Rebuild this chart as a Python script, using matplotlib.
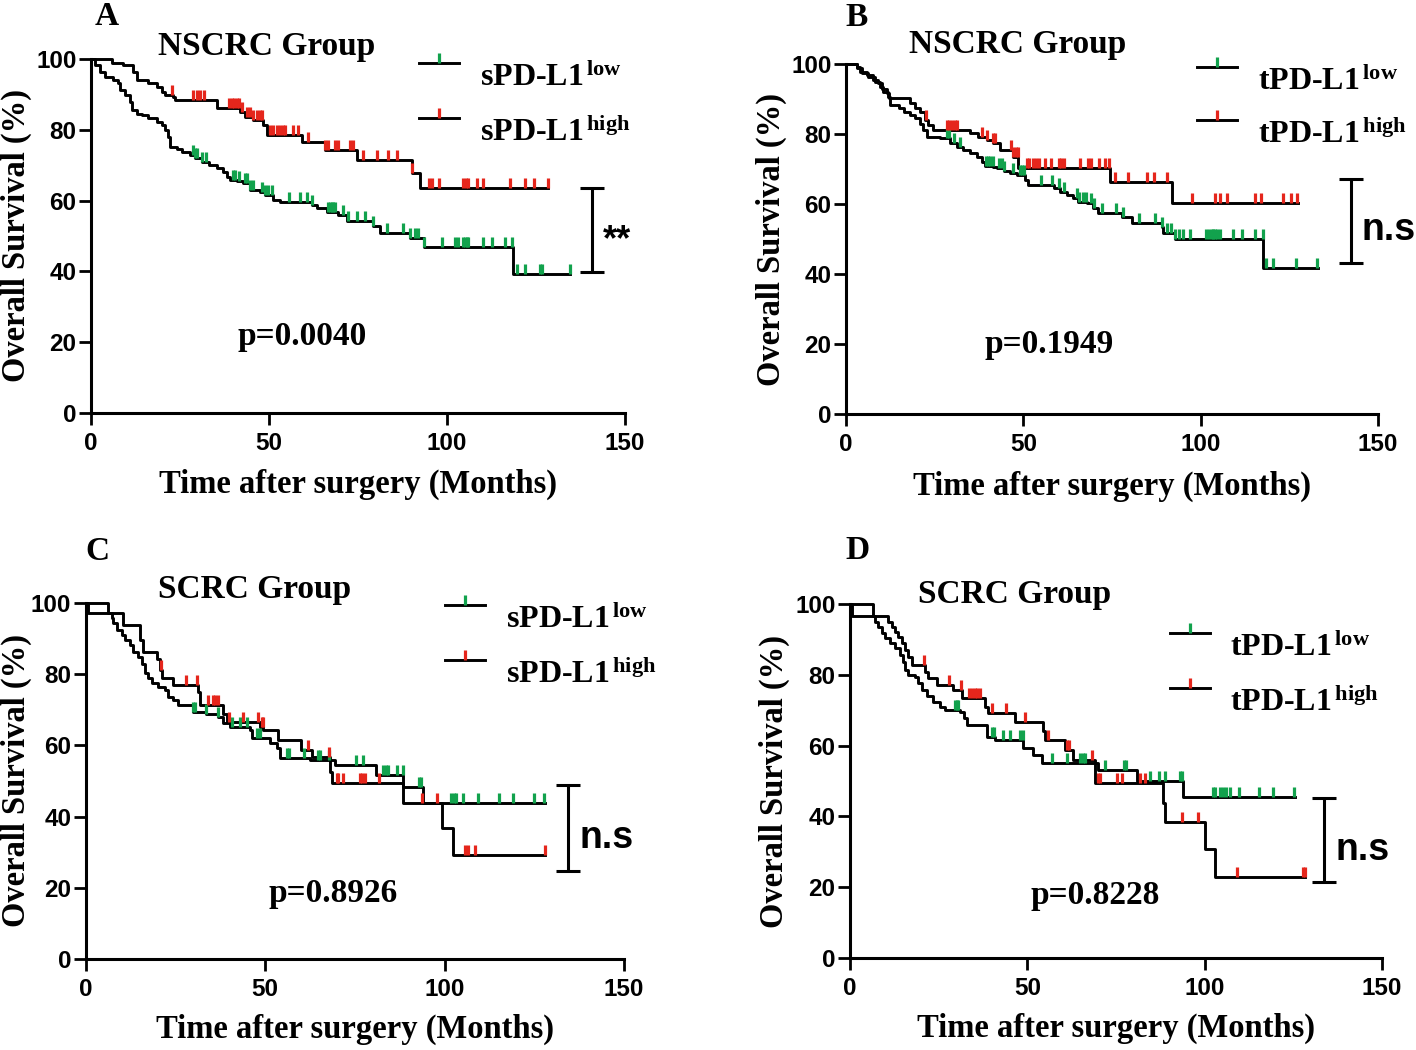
import numpy as np
import matplotlib
matplotlib.use("Agg")
import matplotlib.pyplot as plt
from matplotlib.path import Path

plt.rcParams["mathtext.fontset"] = "custom"
plt.rcParams["mathtext.rm"] = "Liberation Serif:bold"
plt.rcParams["mathtext.bf"] = "Liberation Serif:bold"
plt.rcParams["mathtext.it"] = "Liberation Serif:bold"

GREEN = "#12a24d"
RED = "#e5261c"
SERIF = "Liberation Serif"
SANS = "Liberation Sans"

# ---- Panel A: sPD-L1, NSCRC ----
a_low_t = [0, 1.1, 2.5, 3.9, 6.3, 7.7, 8.1, 9.5, 10.9, 11.4, 12.8, 14.2, 16.1, 18.4, 19.8, 20.8,
           21.7, 22.2, 24.1, 25.5, 27.8, 29.2, 31.1, 33.0, 35.3, 37.2, 38.1, 39.0, 40.9, 42.8, 44.7,
           47.5, 48.9, 51.2, 53.1, 62.0, 63.4, 66.2, 69.5, 71.8, 79.3, 81.2, 89.6, 93.4, 118.6, 134.5]
a_low_s = [100, 98.3, 96.4, 94.9, 94.1, 93.1, 91.2, 89.8, 87.9, 85.6, 84.6, 84.2, 83.2, 82.3, 81.4, 79.9,
           78.0, 75.2, 74.7, 73.8, 72.8, 71.9, 70.9, 70.0, 69.1, 68.2, 66.8, 65.8, 65.4, 64.9, 63.0,
           62.5, 61.6, 60.2, 59.7, 58.8, 57.8, 56.9, 56.0, 54.1, 52.7, 50.8, 49.4, 46.9, 39.4, 39.4]
a_low_cens = [28.7, 29.2, 29.7, 31.1, 32.3, 40.0, 40.4, 41.7, 43.3, 43.7, 44.7, 45.6, 47.9, 48.9, 49.8,
              50.7, 55.7, 58.7, 60.6, 62.0, 66.7, 67.1, 67.6, 68.1, 68.5, 70.9, 72.3, 74.6, 77.0, 79.3,
              83.0, 87.5, 89.6, 91.0, 91.9, 93.4, 98.5, 102.2, 103.2, 104.6, 105.1, 105.5, 106.0, 110.2,
              112.5, 116.3, 118.2, 119.6, 121.9, 126.1, 126.6, 134.5]
a_high_t = [0, 5.8, 9.1, 11.9, 12.8, 16.1, 18.4, 19.9, 20.8, 23.1, 23.6, 35.3, 41.8, 43.3, 45.6, 48.4,
            49.3, 59.2, 65.7, 74.6, 90.1, 92.4, 128.5]
a_high_s = [100, 99.0, 98.3, 96.4, 94.1, 93.1, 92.2, 90.8, 89.8, 89.4, 88.4, 86.1, 85.1, 83.7, 82.8, 81.4,
            78.5, 76.6, 74.3, 71.5, 67.7, 63.5, 63.5]
a_high_cens = [22.8, 28.7, 29.7, 30.6, 31.6, 38.8, 39.5, 40.2, 40.9, 41.7, 42.5, 43.7, 44.7, 45.6, 46.5,
               47.5, 47.9, 50.3, 51.2, 52.2, 53.1, 54.0, 54.5, 56.8, 58.2, 61.0, 65.7, 66.7, 68.5, 69.5,
               72.7, 73.5, 76.5, 80.2, 83.5, 85.9, 90.1, 94.8, 95.7, 97.8, 104.6, 105.3, 106.0, 108.3,
               110.2, 117.7, 121.9, 124.3, 128.5]

# ---- Panel B: tPD-L1, NSCRC ----
b_low_t = [0, 3.0, 4.4, 6.3, 8.2, 9.6, 10.5, 11.9, 12.4, 14.8, 16.2, 18.0, 19.5, 20.9, 21.8, 22.7,
           26.5, 29.3, 31.2, 33.1, 35.0, 36.8, 38.3, 39.2, 41.5, 42.5, 44.4, 46.2, 48.1, 50.5, 51.4,
           58.5, 60.3, 62.2, 64.1, 65.5, 67.9, 69.7, 71.1, 77.7, 80.5, 89.0, 89.5, 92.8, 117.7, 133.0]
b_low_s = [100, 98.8, 97.3, 96.4, 94.9, 93.5, 92.1, 90.7, 88.3, 87.3, 86.4, 85.4, 84.5, 83.0, 81.1, 79.2,
           78.8, 77.3, 76.4, 75.4, 74.5, 73.5, 72.1, 70.9, 70.7, 70.2, 69.3, 68.8, 68.3, 66.9, 65.4,
           64.5, 63.5, 62.6, 61.6, 60.7, 60.2, 58.8, 57.3, 56.4, 54.7, 53.5, 51.6, 49.9, 41.6, 41.6]
b_low_cens = [28.4, 29.1, 30.5, 32.0, 39.4, 40.0, 40.6, 41.4, 43.2, 43.9, 44.4, 47.2, 49.1, 49.6, 50.3,
              55.0, 58.2, 59.9, 61.5, 65.0, 65.8, 66.9, 67.7, 69.0, 69.9, 72.1, 76.1, 78.2, 82.7, 87.1,
              89.0, 90.4, 91.6, 92.8, 94.0, 94.9, 97.0, 101.5, 102.4, 103.1, 103.6, 104.0, 104.7, 105.3,
              109.0, 111.6, 115.3, 117.5, 118.4, 120.5, 126.9, 132.7]
b_high_t = [0, 3.0, 3.9, 5.8, 7.7, 9.1, 10.1, 11.5, 12.0, 18.0, 19.5, 20.9, 22.3, 23.2, 24.6, 35.0,
            37.3, 39.7, 41.5, 43.4, 47.2, 48.6, 74.4, 91.8, 127.5]
b_high_s = [100, 99.2, 97.8, 96.9, 95.4, 94.5, 93.0, 91.6, 90.2, 88.8, 87.3, 86.4, 84.0, 82.6, 81.1, 80.2,
            79.2, 78.3, 77.3, 75.4, 73.5, 70.2, 66.3, 60.4, 60.4]
b_high_cens = [22.6, 28.4, 29.1, 29.9, 30.7, 31.4, 38.3, 39.8, 41.5, 42.1, 46.4, 47.2, 47.9, 48.5, 51.0,
               51.7, 52.6, 53.6, 54.3, 56.1, 57.7, 60.1, 60.7, 61.5, 66.0, 68.3, 69.0, 71.3, 73.0, 74.0,
               75.9, 79.6, 84.8, 86.7, 90.4, 97.5, 104.0, 105.5, 107.5, 115.3, 116.9, 123.1, 125.4, 127.1]

# ---- Panel C: sPD-L1, SCRC ----
c_low_t = [0, 0.6, 7.2, 7.6, 8.6, 10.0, 10.9, 12.3, 13.2, 14.6, 15.5, 16.5, 17.4, 18.3, 20.2, 22.0,
           23.0, 24.3, 25.8, 29.9, 33.6, 36.9, 38.3, 40.1, 45.7, 46.2, 51.3, 53.2, 54.1, 62.5, 69.4,
           81.0, 88.5, 94.1, 128.0]
c_low_s = [100, 97.1, 95.7, 94.3, 92.4, 91.0, 89.6, 88.2, 86.3, 84.9, 83.0, 80.2, 78.8, 77.4, 76.5, 75.5,
           73.7, 72.7, 71.3, 69.4, 68.9, 68.0, 66.2, 65.3, 64.3, 62.0, 60.6, 59.2, 56.4, 55.9, 54.5,
           51.7, 48.4, 43.7, 43.7]
c_low_cens = [29.9, 30.4, 33.6, 36.9, 40.8, 43.0, 44.8, 47.6, 48.5, 56.0, 56.7, 60.8, 64.8, 65.4, 67.8,
              75.3, 77.3, 82.9, 83.6, 84.3, 86.6, 88.3, 93.0, 93.3, 101.9, 102.6, 103.3, 105.2, 109.4,
              115.2, 119.0, 124.9, 127.7]
c_high_t = [0, 6.2, 10.4, 15.1, 16.0, 19.7, 20.6, 21.1, 24.3, 31.3, 31.8, 38.3, 39.2, 48.5, 49.4, 53.6,
            60.1, 62.9, 68.0, 68.5, 88.5, 99.2, 102.4, 128.0]
c_high_s = [100, 97.1, 93.8, 89.6, 86.3, 84.4, 81.2, 78.8, 76.9, 75.1, 71.3, 68.9, 66.7, 65.3, 64.3, 61.5,
            58.7, 56.8, 52.6, 49.5, 43.7, 36.7, 29.2, 29.2]
c_high_cens = [20.9, 27.9, 31.0, 34.1, 35.3, 36.0, 36.9, 39.9, 43.9, 47.9, 49.0, 49.3, 61.8, 67.8, 69.9,
               70.4, 71.7, 76.4, 77.1, 77.8, 81.7, 93.8, 97.8, 105.7, 106.6, 108.5, 128.0]

# ---- Panel D: tPD-L1, SCRC ----
d_low_t = [0, 0.5, 7.1, 8.0, 8.9, 9.9, 11.3, 12.7, 14.1, 15.0, 15.5, 16.4, 18.3, 19.3, 20.2, 21.6,
           23.5, 25.4, 26.8, 31.0, 32.0, 32.9, 38.5, 40.9, 48.9, 51.7, 54.0, 70.0, 80.8, 94.0, 125.5]
d_low_s = [100, 96.6, 95.0, 93.6, 91.7, 90.3, 88.9, 87.5, 85.6, 83.7, 81.4, 80.0, 79.5, 77.7, 75.7, 73.9,
           72.4, 71.0, 70.1, 69.6, 67.7, 65.8, 62.5, 61.6, 59.2, 57.3, 55.2, 53.1, 50.1, 45.5, 45.5]
d_low_cens = [29.6, 30.1, 30.5, 40.0, 40.6, 43.0, 45.1, 47.9, 48.7, 56.9, 61.1, 64.9, 65.6, 66.3, 71.9,
              77.3, 77.8, 84.6, 87.0, 88.8, 93.0, 93.5, 102.3, 102.9, 104.3, 105.3, 106.0, 107.1, 109.8,
              115.4, 119.4, 125.2]
d_high_t = [0, 6.6, 10.8, 11.7, 12.7, 13.6, 14.6, 15.5, 16.4, 17.4, 21.1, 22.1, 24.4, 29.1, 31.5, 38.1,
            39.0, 46.5, 54.5, 55.0, 60.6, 63.0, 69.1, 88.3, 88.8, 100.1, 102.9, 128.3]
d_high_s = [100, 96.6, 95.0, 93.6, 92.2, 90.8, 88.9, 87.0, 85.1, 82.8, 80.9, 79.1, 77.2, 75.7, 73.4, 71.0,
            69.1, 66.8, 64.0, 61.6, 58.7, 55.9, 49.5, 43.7, 38.5, 30.9, 22.9, 22.9]
d_high_cens = [20.9, 28.0, 31.2, 33.6, 34.3, 35.2, 35.9, 36.7, 40.0, 44.0, 49.3, 55.9, 61.1, 61.8, 68.1,
               70.0, 70.5, 75.2, 76.6, 81.8, 83.2, 93.5, 98.0, 109.0, 127.8, 128.3]

# text per panel
letters = ["A", "B", "C", "D"]
groups = ["NSCRC Group", "NSCRC Group", "SCRC Group", "SCRC Group"]
markers_name = ["sPD-L1", "tPD-L1", "sPD-L1", "tPD-L1"]
p_values = ["p=0.0040", "p=0.1949", "p=0.8926", "p=0.8228"]
signif = ["**", "n.s", "n.s", "n.s"]

# tick mark for censored cases: a short vertical stroke rising from the curve
CENSOR = Path([(0, 0), (0, 1)])
LW = 2.1


def step_value(times, surv, t):
    idx = np.searchsorted(times, t, side="right") - 1
    return np.asarray(surv)[idx]


def draw_curve(ax, times, surv, cens, color):
    ax.step(times, surv, where="post", color="black", lw=LW, clip_on=False, zorder=3)
    ax.plot(cens, step_value(times, surv, cens), ls="none", marker=CENSOR, ms=14,
            mew=2.3, mec=color, clip_on=False, zorder=4)


def draw_key(ax, x0, x1, y, tx, dy, color, label):
    # legend row drawn by hand: black handle, coloured censor tick, serif label below-right
    ax.plot([x0, x1], [y, y], color="black", lw=LW, clip_on=False)
    ax.plot([(x0 + x1) / 2], [y], ls="none", marker=CENSOR, ms=14, mew=2.3, mec=color,
            clip_on=False)
    ax.text(tx, y - dy, label, family=SERIF, fontweight="bold", fontsize=23,
            ha="left", va="baseline", clip_on=False)


panels = [
    dict(pos=[0.0643, 0.6067, 0.3771, 0.3371], low=(a_low_t, a_low_s, a_low_cens),
         high=(a_high_t, a_high_s, a_high_cens), title_xy=(49.2, 103.4), letter_xy=(4.5, 111.9),
         p_xy=(59.3, 21.5), bracket=(140.7, 39.8, 63.6), sig_xy=(147.8, 48.8),
         key=(92.2, 103.5, 98.8, 83.2, 109.3, 6.5), xlab=-0.203, ylab=-0.140),
    dict(pos=[0.5975, 0.6057, 0.3757, 0.3333], low=(b_low_t, b_low_s, b_low_cens),
         high=(b_high_t, b_high_s, b_high_cens), title_xy=(48.5, 105.7), letter_xy=(3.1, 113.4),
         p_xy=(57.2, 20.0), bracket=(142.4, 43.1, 67.1), sig_xy=(153.1, 52.6),
         key=(99.0, 110.2, 99.1, 84.0, 116.2, 6.6), xlab=-0.206, ylab=-0.141),
    dict(pos=[0.0607, 0.0867, 0.3799, 0.3390], low=(c_low_t, c_low_s, c_low_cens),
         high=(c_high_t, c_high_s, c_high_cens), title_xy=(47.1, 103.7), letter_xy=(3.1, 114.6),
         p_xy=(68.9, 18.3), bracket=(134.4, 24.7, 48.9), sig_xy=(145.2, 34.0),
         key=(100.1, 111.2, 99.4, 84.0, 117.1, 6.5), xlab=-0.199, ylab=-0.130),
    dict(pos=[0.6003, 0.0876, 0.3757, 0.3371], low=(d_low_t, d_low_s, d_low_cens),
         high=(d_high_t, d_high_s, d_high_cens), title_xy=(46.5, 102.8), letter_xy=(2.0, 115.0),
         p_xy=(69.1, 17.8), bracket=(133.6, 21.5, 45.2), sig_xy=(144.6, 30.5),
         key=(90.2, 101.5, 91.8, 76.3, 107.1, 6.5), xlab=-0.200, ylab=-0.143),
]

fig = plt.figure(figsize=(14.16, 10.5), dpi=100)

for i, spec in enumerate(panels):
    ax = fig.add_axes(spec["pos"])
    draw_curve(ax, *spec["low"], GREEN)
    draw_curve(ax, *spec["high"], RED)

    ax.set_xlim(0, 150)
    ax.set_ylim(0, 100)
    ax.set_xticks([0, 50, 100, 150])
    ax.set_yticks([0, 20, 40, 60, 80, 100])
    for side in ["top", "right"]:
        ax.spines[side].set_visible(False)
    for side in ["left", "bottom"]:
        ax.spines[side].set_linewidth(2.2)
    ax.tick_params(direction="out", length=8.5, width=2.0, labelsize=17.5)
    ax.tick_params(axis="x", pad=5)
    ax.tick_params(axis="y", pad=2)
    for lab in ax.get_xticklabels() + ax.get_yticklabels():
        lab.set_fontfamily(SANS)
        lab.set_fontweight("bold")

    ax.set_xlabel("Time after surgery (Months)", family=SERIF, fontweight="bold", fontsize=23.5)
    ax.set_ylabel("Overall Survival (%)", family=SERIF, fontweight="bold", fontsize=23.5)
    ax.xaxis.label.set_va("center")
    ax.yaxis.label.set_va("center")
    ax.xaxis.set_label_coords(0.5, spec["xlab"])
    ax.yaxis.set_label_coords(spec["ylab"], 0.5)

    txt = dict(family=SERIF, fontweight="bold", ha="center", va="center", clip_on=False)
    ax.text(*spec["title_xy"], groups[i], fontsize=24, **txt)
    ax.text(*spec["letter_xy"], letters[i], fontsize=24, **txt)
    ax.text(*spec["p_xy"], p_values[i], fontsize=24, **txt)

    bx, lo, hi = spec["bracket"]
    ax.vlines(bx, lo, hi, color="black", lw=2.2, clip_on=False)
    ax.hlines([lo, hi], bx - 3.4, bx + 3.4, color="black", lw=2.2, clip_on=False)
    ax.text(*spec["sig_xy"], signif[i], family=SANS, fontweight="bold",
            fontsize=27 if signif[i] == "n.s" else 26, ha="center", va="center", clip_on=False)

    x0, x1, y_low, y_high, tx, dy = spec["key"]
    name = markers_name[i]
    draw_key(ax, x0, x1, y_low, tx, dy, GREEN, name + r"$^{\,\mathrm{low}}$")
    draw_key(ax, x0, x1, y_high, tx, dy, RED, name + r"$^{\,\mathrm{high}}$")

fig.savefig("out.png", dpi=100)
